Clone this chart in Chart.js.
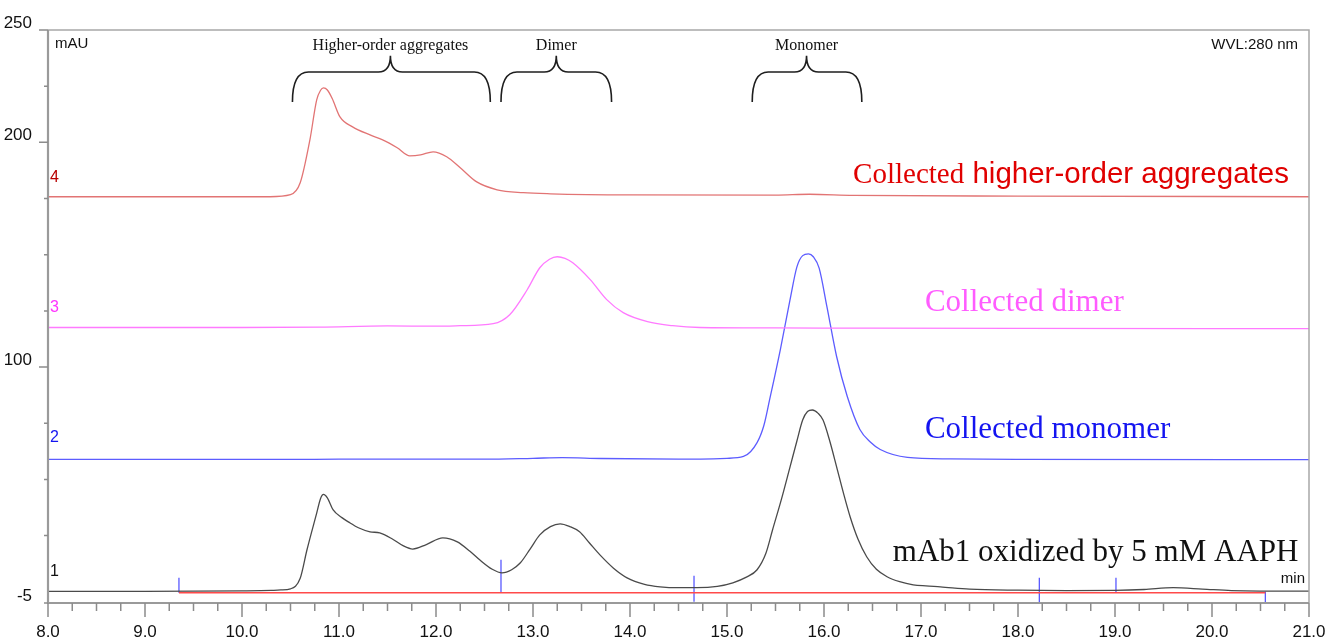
<!DOCTYPE html>
<html lang="en">
<head>
    <meta charset="UTF-8">
    <title>SEC chromatograms</title>
    <script src="https://cdn.jsdelivr.net/npm/chart.js"></script>
    <style>
        body { margin: 0; background: #fff; }
        #wrap { width: 1328px; height: 644px; position: relative; }
    </style>
</head>
<body>
    <div id="wrap"><canvas id="secChart"></canvas></div>
    <script>
        // retention time (min) / absorbance (mAU)
        const t1 = [8.0, 9.0, 10.0, 10.3, 10.4, 10.5, 10.6, 10.67, 10.77, 10.81, 10.84, 10.88, 10.94, 11.03, 11.1, 11.2, 11.32, 11.42, 11.55, 11.66, 11.76, 11.9, 12.07, 12.22, 12.35, 12.45, 12.58, 12.68, 12.78, 12.87, 12.97, 13.07, 13.18, 13.28, 13.38, 13.48, 13.58, 13.69, 13.83, 13.97, 14.15, 14.31, 14.5, 14.69, 14.9, 15.06, 15.2, 15.31, 15.4, 15.47, 15.56, 15.65, 15.72, 15.78, 15.83, 15.88, 15.94, 15.99, 16.06, 16.13, 16.2, 16.27, 16.35, 16.44, 16.54, 16.65, 16.78, 16.92, 17.05, 17.2, 17.5, 18.0, 18.5, 19.0, 19.3, 19.6, 19.9, 20.2, 20.5, 21.0];
        const v1 = [0.2, 0.2, 0.4, 0.6, 0.8, 1.3, 6, 18.7, 35, 41.5, 43.3, 41.8, 36.4, 33, 31, 28.5, 26.7, 26.2, 23.5, 20.5, 19, 21, 24, 22.2, 18, 14.2, 10, 8.4, 9.8, 12.9, 19, 25.3, 29, 30.2, 29, 26.7, 21.8, 16.4, 10.5, 6.2, 3.3, 2.2, 1.8, 1.8, 2.4, 4.0, 6.5, 9.8, 17, 27.6, 41, 55.6, 67, 76.4, 80.2, 80.9, 79.4, 76.4, 67, 55.6, 44, 33.3, 23.5, 15.6, 10, 6.7, 4.5, 3.1, 2.6, 2.2, 1.2, 0.7, 0.5, 0.6, 1.0, 1.8, 1.2, 0.5, 0.3, 0.3];

        const t2 = [8.0, 10.5, 11.0, 12.5, 13.0, 13.3, 13.7, 14.5, 15.0, 15.17, 15.31, 15.38, 15.44, 15.55, 15.65, 15.72, 15.78, 15.84, 15.89, 15.95, 16.03, 16.13, 16.24, 16.37, 16.48, 16.58, 16.86, 17.3, 18.0, 21.0];
        const v2 = [58.9, 58.9, 59.0, 59.0, 59.4, 59.7, 59.3, 59.0, 59.4, 60.2, 66.4, 74, 85.6, 107.8, 130, 144.5, 149.6, 150.4, 149.1, 144, 126.9, 104.7, 86.9, 72.2, 66.5, 63.3, 59.8, 59.1, 58.9, 58.8];

        const t3 = [8.0, 10.0, 10.8, 11.5, 12.0, 12.25, 12.59, 12.76, 12.94, 13.07, 13.17, 13.25, 13.33, 13.41, 13.59, 13.76, 13.93, 14.18, 14.44, 14.72, 15.5, 16.5, 18.0, 21.0];
        const v3 = [117.6, 117.6, 117.8, 118.3, 118.2, 118.4, 119.3, 123.3, 134.4, 144.2, 148, 149.1, 148.4, 146.4, 138.9, 130, 124.2, 120.2, 118.4, 117.6, 117.4, 117.3, 117.2, 117.1];

        const t4 = [8.0, 10.29, 10.5, 10.6, 10.7, 10.77, 10.81, 10.84, 10.88, 10.93, 11.01, 11.14, 11.32, 11.45, 11.6, 11.73, 11.84, 11.97, 12.11, 12.25, 12.42, 12.63, 12.9, 13.18, 14.0, 15.5, 15.85, 16.3, 18.0, 21.0];
        const v4 = [175.8, 175.8, 176.7, 182, 201.1, 218.9, 223.2, 224.2, 223.3, 219.5, 211.3, 206.9, 203.3, 201.1, 197.6, 194, 194.4, 195.8, 193.6, 188.7, 182.4, 178.9, 177.6, 177.1, 176.6, 176.5, 176.9, 176.4, 176.1, 175.8];

        // integration baseline and peak delimiters on trace 1
        const baseStart = 9.35, baseEnd = 20.55, baseLevel = -0.4;
        const markTimes = [9.35, 12.67, 14.66, 18.22, 19.01, 20.55];
        const markTop = [6.2, 14.2, 7.1, 6.2, 6.2, 0];
        const markBottom = [-0.4, -0.4, -4.4, -4.7, -0.4, -4.7];

        // fraction braces at the top
        const braceNames = ['Higher-order aggregates', 'Dimer', 'Monomer'];
        const braceFrom = [10.52, 12.67, 15.26];
        const braceTo = [12.56, 13.81, 16.39];
        const braceMid = [11.53, 13.24, 15.82];

        const traceNums = ['1', '2', '3', '4'];
        const traceTitles = ['mAb1 oxidized by 5 mM AAPH', 'Collected monomer', 'Collected dimer', 'Collected'];
        const traceTitleTail = ['', '', '', ' higher-order aggregates'];

        const yTicks = [-5, 25, 50, 75, 100, 125, 150, 175, 200, 225, 250];
        const yLabelled = [-5, 100, 200, 250];

        const lineCols = ['#4a4a4a', '#5c5cff', '#ff7aff', '#e27474'];
        const textCols = ['#111111', '#1414f0', '#ff5cff', '#e00000'];
        const numCols = ['#111111', '#1414f0', '#ff33ff', '#b80000'];

        const pts = (ts, vs) => ts.map((t, i) => ({ x: t, y: vs[i] }));

        const markPts = [];
        markTimes.forEach((t, i) => {
            markPts.push({ x: t, y: markTop[i] }, { x: t, y: markBottom[i] }, { x: t, y: null });
        });

        const traceSet = (data, col) => ({
            data: data,
            borderColor: col,
            borderWidth: 1.3,
            pointRadius: 0,
            cubicInterpolationMode: 'monotone',
            fill: false
        });

        const serif = '"Liberation Serif", "DejaVu Serif", serif';
        const sans = '"Liberation Sans", Arial, sans-serif';

        const decor = {
            id: 'decor',
            afterDraw(chart) {
                const { ctx, chartArea: a, scales: { x, y } } = chart;
                ctx.save();

                // frame
                ctx.strokeStyle = '#a8a8a8';
                ctx.lineWidth = 1.5;
                ctx.beginPath();
                ctx.moveTo(a.left, a.top); ctx.lineTo(a.right, a.top); ctx.lineTo(a.right, a.bottom);
                ctx.stroke();
                ctx.strokeStyle = '#9a9a9a';
                ctx.lineWidth = 2.2;
                ctx.beginPath();
                ctx.moveTo(a.left, a.top); ctx.lineTo(a.left, a.bottom); ctx.lineTo(a.right, a.bottom);
                ctx.stroke();

                // tick marks
                ctx.lineWidth = 1.5;
                ctx.strokeStyle = '#8c8c8c';
                ctx.beginPath();
                for (let k = 0; k <= 52; k++) {
                    const px = x.getPixelForValue(8 + k * 0.25);
                    const len = k % 4 === 0 ? 14 : 8;
                    ctx.moveTo(px, a.bottom); ctx.lineTo(px, a.bottom + len);
                }
                yTicks.forEach(v => {
                    const py = y.getPixelForValue(v);
                    const len = yLabelled.includes(v) && v !== -5 ? 9 : 4;
                    ctx.moveTo(a.left - len, py); ctx.lineTo(a.left, py);
                });
                ctx.stroke();

                const txt = (s, tx, ty, font, col, align) => {
                    ctx.font = font;
                    ctx.fillStyle = col;
                    ctx.textAlign = align;
                    ctx.textBaseline = 'middle';
                    ctx.fillText(s, tx, ty);
                };

                // braces
                ctx.strokeStyle = '#1e1e1e';
                ctx.lineWidth = 1.6;
                braceNames.forEach((name, i) => {
                    const xs = x.getPixelForValue(braceFrom[i]);
                    const xe = x.getPixelForValue(braceTo[i]);
                    const xm = x.getPixelForValue(braceMid[i]);
                    const yEnd = y.getPixelForValue(218);
                    const yArm = y.getPixelForValue(231.3);
                    const yTip = y.getPixelForValue(238.5);
                    const r = 16;
                    ctx.beginPath();
                    ctx.moveTo(xs, yEnd);
                    ctx.quadraticCurveTo(xs, yArm, xs + r, yArm);
                    ctx.lineTo(xm - 12, yArm);
                    ctx.quadraticCurveTo(xm, yArm, xm, yTip);
                    ctx.quadraticCurveTo(xm, yArm, xm + 12, yArm);
                    ctx.lineTo(xe - r, yArm);
                    ctx.quadraticCurveTo(xe, yArm, xe, yEnd);
                    ctx.stroke();
                    txt(name, xm, y.getPixelForValue(242.9), '16px ' + serif, '#111', 'center');
                });

                // corner texts
                txt('mAU', a.left + 7, y.getPixelForValue(243.8), '15px ' + sans, '#111', 'left');
                txt('WVL:280 nm', a.right - 11, y.getPixelForValue(243.5), '15px ' + sans, '#111', 'right');
                txt('min', a.right - 4, y.getPixelForValue(5.6), '15px ' + sans, '#111', 'right');

                // trace numbers and titles
                const numY = [9.1, 68.7, 126.4, 184.2];
                const titleX = [16.71, 17.04, 17.04, 16.3];
                const titleY = [17.4, 72.2, 128.6, 185.5];
                const titleSize = [31, 31, 31, 29];
                traceNums.forEach((n, i) => {
                    txt(n, a.left + 2, y.getPixelForValue(numY[i]), '16px ' + sans, numCols[i], 'left');
                    const px = x.getPixelForValue(titleX[i]);
                    const py = y.getPixelForValue(titleY[i]);
                    const f = titleSize[i] + 'px ' + serif;
                    txt(traceTitles[i], px, py, f, textCols[i], 'left');
                    if (traceTitleTail[i]) {
                        ctx.font = f;
                        const w = ctx.measureText(traceTitles[i]).width;
                        txt(traceTitleTail[i], px + w, py, '29.5px ' + sans, textCols[i], 'left');
                    }
                });

                ctx.restore();
            }
        };

        const ctx = document.getElementById('secChart').getContext('2d');
        new Chart(ctx, {
            type: 'line',
            data: {
                datasets: [
                    traceSet(pts(t4, v4), lineCols[3]),
                    traceSet(pts(t3, v3), lineCols[2]),
                    traceSet(pts(t2, v2), lineCols[1]),
                    {
                        data: [{ x: baseStart, y: baseLevel }, { x: baseEnd, y: baseLevel }],
                        borderColor: '#ff4a4a',
                        borderWidth: 1.5,
                        pointRadius: 0
                    },
                    traceSet(pts(t1, v1), lineCols[0]),
                    {
                        data: markPts,
                        borderColor: '#5a5aff',
                        borderWidth: 1.3,
                        pointRadius: 0,
                        spanGaps: false
                    }
                ]
            },
            options: {
                responsive: true,
                maintainAspectRatio: false,
                animation: false,
                layout: { padding: { top: 30, right: 19, left: 0, bottom: 0 } },
                plugins: {
                    legend: { display: false },
                    tooltip: { enabled: false }
                },
                scales: {
                    x: {
                        type: 'linear',
                        min: 8,
                        max: 21,
                        grid: { display: false },
                        border: { display: false },
                        afterBuildTicks: scale => {
                            const tk = [];
                            for (let v = 8; v <= 21; v++) tk.push({ value: v });
                            scale.ticks = tk;
                        },
                        afterFit: scale => {
                            scale.height = 41;
                            scale.paddingLeft = 0;
                            scale.paddingRight = 0;
                        },
                        ticks: {
                            padding: 11,
                            maxRotation: 0,
                            color: '#111',
                            font: { family: sans, size: 17 },
                            callback: v => v.toFixed(1)
                        }
                    },
                    y: {
                        type: 'linear',
                        min: -5,
                        max: 250,
                        grid: { display: false },
                        border: { display: false },
                        afterBuildTicks: scale => {
                            scale.ticks = yTicks.map(v => ({ value: v }));
                        },
                        afterFit: scale => {
                            scale.width = 48;
                            scale.paddingTop = 0;
                            scale.paddingBottom = 0;
                        },
                        ticks: {
                            padding: 8,
                            labelOffset: -7,
                            color: '#111',
                            font: { family: sans, size: 17 },
                            callback: v => yLabelled.includes(v) ? String(v) : ''
                        }
                    }
                }
            },
            plugins: [decor]
        });
    </script>
</body>
</html>
